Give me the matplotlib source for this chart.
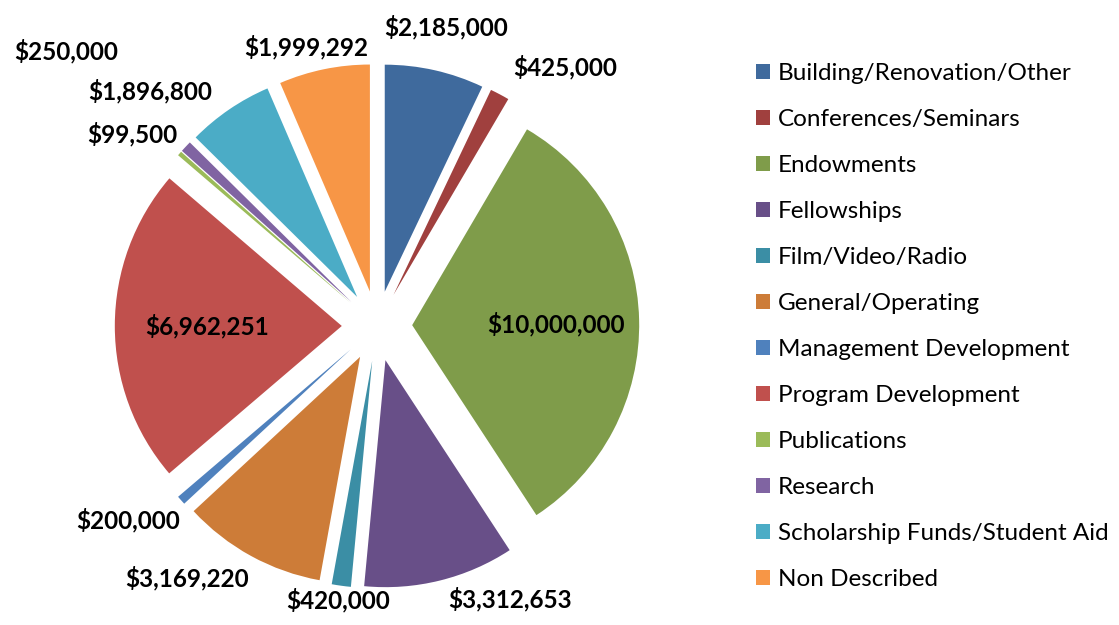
import math

import matplotlib
matplotlib.use("Agg")
import matplotlib.pyplot as plt

plt.rcParams["font.family"] = ["Lato", "DejaVu Sans"]

categories = [
    "Building/Renovation/Other",
    "Conferences/Seminars",
    "Endowments",
    "Fellowships",
    "Film/Video/Radio",
    "General/Operating",
    "Management Development",
    "Program Development",
    "Publications",
    "Research",
    "Scholarship Funds/Student Aid",
    "Non Described",
]
amounts = [2185000, 425000, 10000000, 3312653, 420000, 3169220,
           200000, 6962251, 99500, 250000, 1896800, 1999292]
colors = ["#3F6A9D", "#A0403E", "#7F9C4A", "#684F88", "#3B8EA5", "#CD7C38",
          "#4F81BD", "#C0504D", "#9BBB59", "#8064A2", "#4BACC6", "#F79646"]

# label placement: angle clockwise from 12 o'clock (deg), distance in pie radii
label_angle = [13, 36, 89.4, 154, 188, 217, 232, 270, 308, 311.5, 316, 345.7]
label_dist = [1.35, 1.41, 0.79, 1.34, 1.22, 1.39, 1.39, 0.75, 1.37, 1.83, 1.44, 1.27]

W, H = 1119, 625
R = 227.0          # pie radius in pixels
cx, cy = 377, 326  # pie centre in pixels (from top-left)

fig = plt.figure(figsize=(W / 100, H / 100), dpi=100)
ax = fig.add_axes([0, 0, 1, 1])

wedges, _ = ax.pie(
    amounts,
    colors=colors,
    startangle=90,
    counterclock=False,
    explode=[0.155] * len(amounts),
    radius=1,
    wedgeprops=dict(linewidth=0),
)
ax.set_xlim(-cx / R, (W - cx) / R)
ax.set_ylim(-(H - cy) / R, cy / R)
ax.set_aspect("equal")
ax.axis("off")

for val, ang, dist in zip(amounts, label_angle, label_dist):
    a = math.radians(ang)
    ax.text(dist * math.sin(a), dist * math.cos(a), f"${val:,}",
            ha="center", va="center", fontsize=17.5, fontweight="bold",
            color="black")

fig.legend(
    wedges, categories,
    loc="upper left",
    bbox_to_anchor=(756 / W, 1 - 63 / H),
    frameon=False,
    fontsize=17.5,
    handlelength=0.58,
    handleheight=0.58,
    handletextpad=0.33,
    labelspacing=1.03,
    borderpad=0,
    borderaxespad=0,
)

fig.savefig("out.png", dpi=100)
